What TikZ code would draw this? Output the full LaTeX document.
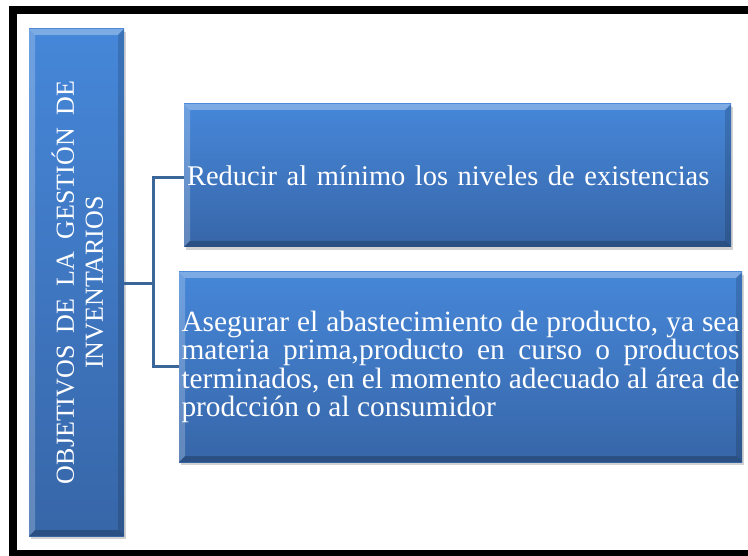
\documentclass[tikz,border=0pt]{standalone}
\usepackage{fontspec}
\setmainfont{Liberation Serif}
\usetikzlibrary{shadows}
\definecolor{boxtop}{HTML}{4687D9}
\definecolor{boxbot}{HTML}{3766A8}
\definecolor{connc}{HTML}{3A6699}
\begin{document}
\begin{tikzpicture}[x=1pt,y=-1pt,
  bluebox/.style={rectangle, inner sep=0pt, top color=boxtop, bottom color=boxbot,
    draw=none, text=white,
    drop shadow={opacity=0.35, shadow xshift=2pt, shadow yshift=-3pt},
    path picture={
      \fill[white,opacity=0.30] (path picture bounding box.north west) -- (path picture bounding box.north east)
        -- ([xshift=-6pt,yshift=-6pt]path picture bounding box.north east) -- ([xshift=6pt,yshift=-6pt]path picture bounding box.north west) -- cycle;
      \fill[white,opacity=0.22] (path picture bounding box.north west) -- ([xshift=6pt,yshift=-6pt]path picture bounding box.north west)
        -- ([xshift=6pt,yshift=6pt]path picture bounding box.south west) -- (path picture bounding box.south west) -- cycle;
      \fill[black,opacity=0.15] (path picture bounding box.north east) -- ([xshift=-6pt,yshift=-6pt]path picture bounding box.north east)
        -- ([xshift=-6pt,yshift=6pt]path picture bounding box.south east) -- (path picture bounding box.south east) -- cycle;
      \fill[black,opacity=0.22] (path picture bounding box.south west) -- ([xshift=6pt,yshift=6pt]path picture bounding box.south west)
        -- ([xshift=-6pt,yshift=6pt]path picture bounding box.south east) -- (path picture bounding box.south east) -- cycle;
    }},
  conn/.style={draw=connc, line width=3pt},
  frame/.style={draw=black, line width=8pt}
]
\useasboundingbox (0,0) rectangle (748,556);
\clip (0,0) rectangle (748,556);
\fill[white] (0,0) rectangle (748,556);
\draw[frame] (800,10.5) -- (12.5,10.5) -- (12.5,553.5) -- (800,553.5);

\node[bluebox, minimum width=95pt, minimum height=507pt] (lbox) at (76.5,282.5) {};
\node[text=white, rotate=90, align=center, inner sep=0pt, font=\fontsize{26}{29}\selectfont] (ltext) at (77.5,282.5)
  {\makebox[403pt][s]{OBJETIVOS DE LA GESTIÓN DE}\\INVENTARIOS};

\node[bluebox, minimum width=547pt, minimum height=143pt, text width=541pt, align=left,
  font=\fontsize{28.5}{28.3}\selectfont] (box1) at (457.5,175.5)
  {Reducir al mínimo los niveles de existencias};

\node[bluebox, minimum width=563pt, minimum height=190pt, text width=558pt, align=justify,
  font=\fontsize{29.4}{28.3}\selectfont] (box2) at (460.5,367)
  {Asegurar el abastecimiento de producto, ya sea\linebreak
   materia prima,producto en curso o productos\linebreak
   terminados, en el momento adecuado al área de\linebreak
   prodcción o al consumidor};

\coordinate (jm) at (153,284);
\coordinate (jt) at (153,178);
\coordinate (jb) at (153,367);
\draw[conn] (lbox.east |- jm) -- (jm);
\draw[conn] (box1.west |- jt) -- (jt) -- (jb) -- (box2.west |- jb);
\end{tikzpicture}
\end{document}
